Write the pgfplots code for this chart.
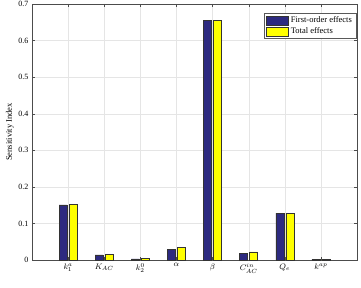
\documentclass[border=0pt]{standalone}
\usepackage{fontspec}
\setmainfont{Liberation Serif}
\usepackage{pgfplots}
\pgfplotsset{compat=1.18}
\definecolor{fo}{RGB}{45,42,128}
\definecolor{te}{RGB}{255,255,0}
\begin{document}
\begin{tikzpicture}
\begin{axis}[
  scale only axis,
  width=325pt, height=256pt,
  xmin=0, xmax=9, ymin=0, ymax=0.7,
  xtick={1,...,8},
  xticklabels={$k_1^a$,$K_{AC}$,$k_2^0$,$\alpha$,$\beta$,$C_{AC}^{in}$,$Q_e$,$k^{ap}$},
  ytick={0,0.1,...,0.7},
  yticklabel style={/pgf/number format/fixed,/pgf/number format/precision=1},
  /pgf/number format/assume math mode=true,
  ticklabel style={font=\fontsize{8}{9}\selectfont},
  xticklabel style={yshift=0pt},
  ylabel={Sensitivity Index},
  ylabel style={font=\fontsize{8.5}{10}\selectfont},
  ylabel shift=-2pt,
  grid=major,
  grid style={gray!20, line width=0.3pt},
  axis line style={gray!60!black, line width=0.5pt},
  tick style={gray!60!black},
  tick align=inside,
  major tick length=3pt,
  xtick pos=both, ytick pos=both,
  legend style={at={(0.997,0.965)}, anchor=north east, font=\fontsize{8.5}{10}\selectfont, draw=gray!70!black, inner xsep=2pt, inner ysep=1.5pt, row sep=-0.5pt},
  legend cell align=left,
  legend image code/.code={\draw[#1] (0pt,-4.5pt) rectangle (22pt,4.5pt);},
]
\addplot[ybar, bar width=8pt, bar shift=-5pt, fill=fo, draw=black!80, line width=0.4pt]
 coordinates {(1,0.151) (2,0.014) (3,0.003) (4,0.029) (5,0.655) (6,0.019) (7,0.128) (8,0.002)};
\addlegendentry{First-order effects}
\addplot[ybar, bar width=8pt, bar shift=5pt, fill=te, draw=black!80, line width=0.4pt]
 coordinates {(1,0.152) (2,0.016) (3,0.005) (4,0.035) (5,0.656) (6,0.022) (7,0.128) (8,0.001)};
\addlegendentry{Total effects}
\coordinate (bl) at (rel axis cs:0,0);
\coordinate (tr) at (rel axis cs:1,1);
\end{axis}
\pgfresetboundingbox
\path ([xshift=-32pt,yshift=-27pt]bl) rectangle ([xshift=4pt,yshift=4pt]tr);
\end{tikzpicture}
\end{document}
